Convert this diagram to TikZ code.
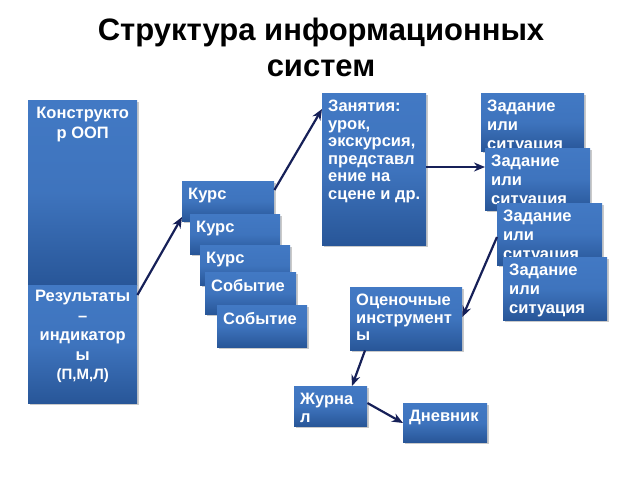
\documentclass[tikz,border=0pt]{standalone}
\usepackage{fontspec}
\setmainfont{Liberation Sans}
\usetikzlibrary{arrows.meta,shadows}
\definecolor{btop}{RGB}{66,121,196}
\definecolor{bbot}{RGB}{40,86,152}
\definecolor{arr}{RGB}{22,32,88}
\tikzset{
  box/.style={rectangle, inner sep=0pt, top color=btop, bottom color=bbot, middle color=btop!85!bbot,
    drop shadow={shadow xshift=1.5pt, shadow yshift=-1.5pt, opacity=0.35, fill=black!60}},
  lbl/.style={text=white, font=\bfseries\fontsize{16.5}{17.5}\selectfont, align=left,
    inner xsep=6pt, inner ysep=7pt, anchor=north west},
  tlbl/.style={lbl, font=\bfseries\fontsize{16.5}{19}\selectfont},
  clbl/.style={text=white, font=\bfseries\fontsize{16.5}{19.5}\selectfont, align=center,
    inner sep=0pt, anchor=north},
  con/.style={draw=arr, line width=2.2pt, -{Stealth[length=11pt,width=9pt]}},
}
\begin{document}
\begin{tikzpicture}[x=1pt,y=-1pt]
\useasboundingbox (0,0) rectangle (640,480);
% title
\node[font=\bfseries\fontsize{31}{36}\selectfont, align=center, anchor=north] (title) at (321,15)
  {Структура информационных\\систем};
% left column
\node[box, anchor=north west, minimum width=109pt, minimum height=185pt] (kon) at (28,100) {};
\node[clbl] (kont) at ([yshift=-7pt]kon.north) {Конструкто\\р ООП};
\node[box, anchor=north west, minimum width=109pt, minimum height=118pt] (res) at (28,285) {};
\node[clbl] (rest) at ([yshift=-5pt]res.north) {Результаты\\–\\индикатор\\ы\\{\fontsize{15}{18}\selectfont(П,М,Л)}};
% course stack
\node[box, anchor=north west, minimum width=92pt, minimum height=40pt] (k1) at (182,181) {};
\node[lbl] at (k1.north west) {Курс};
\node[box, anchor=north west, minimum width=90pt, minimum height=40pt] (k2) at (190,214) {};
\node[lbl] at (k2.north west) {Курс};
\node[box, anchor=north west, minimum width=90pt, minimum height=40pt] (k3) at (200,245) {};
\node[lbl] at (k3.north west) {Курс};
\node[box, anchor=north west, minimum width=91pt, minimum height=42pt] (s1) at (205,272) {};
\node[lbl] at (s1.north west) {Событие};
\node[box, anchor=north west, minimum width=90pt, minimum height=42pt] (s2) at (217,305) {};
\node[lbl] at (s2.north west) {Событие};
% lessons
\node[box, anchor=north west, minimum width=104pt, minimum height=152pt] (zan) at (322,93) {};
\node[lbl] at (zan.north west) {Занятия:\\урок,\\экскурсия,\\представл\\ение на\\сцене и др.};
% tasks
\node[box, anchor=north west, minimum width=103pt, minimum height=58pt] (z1) at (481,93) {};
\node[tlbl] at (z1.north west) {Задание\\или\\ситуация};
\node[box, anchor=north west, minimum width=105pt, minimum height=62pt] (z2) at (485,148) {};
\node[tlbl] at (z2.north west) {Задание\\или\\ситуация};
\node[box, anchor=north west, minimum width=105pt, minimum height=62pt] (z3) at (497,203) {};
\node[tlbl] at (z3.north west) {Задание\\или\\ситуация};
\node[box, anchor=north west, minimum width=104pt, minimum height=63pt] (z4) at (503,257) {};
\node[tlbl] at (z4.north west) {Задание\\или\\ситуация};
% assessment
\node[box, anchor=north west, minimum width=112pt, minimum height=63pt] (oc) at (350,287) {};
\node[lbl] at (oc.north west) {Оценочные\\инструмент\\ы};
\node[box, anchor=north west, minimum width=73pt, minimum height=40pt] (zh) at (294,386) {};
\node[lbl] at (zh.north west) {Журна\\л};
\node[box, anchor=north west, minimum width=84pt, minimum height=39pt] (dn) at (403,403) {};
\node[lbl] at (dn.north west) {Дневник};
% connectors
\coordinate (a1s) at ([yshift=-10pt]res.north east);
\coordinate (a1e) at ([yshift=-36pt]k1.north west);
\draw[con] (a1s) -- (a1e);
\coordinate (a2s) at ([yshift=-9pt]k1.north east);
\coordinate (a2e) at ([yshift=-16pt]zan.north west);
\draw[con] (a2s) -- (a2e);
\coordinate (a3s) at ([yshift=-74pt]zan.north east);
\coordinate (a3e) at ([yshift=-19pt]z2.north west);
\draw[con] (a3s) -- (a3e);
\coordinate (a4s) at ([yshift=-34pt]z3.north west);
\coordinate (a4e) at ([yshift=-30pt]oc.north east);
\draw[con] (a4s) -- (a4e);
\coordinate (a5s) at ([xshift=15pt]oc.south west);
\coordinate (a5e) at ([xshift=58pt]zh.north west);
\draw[con] (a5s) -- (a5e);
\coordinate (a6s) at ([yshift=-17pt]zh.north east);
\coordinate (a6e) at ([yshift=-20pt]dn.north west);
\draw[con] (a6s) -- (a6e);
\end{tikzpicture}
\end{document}
